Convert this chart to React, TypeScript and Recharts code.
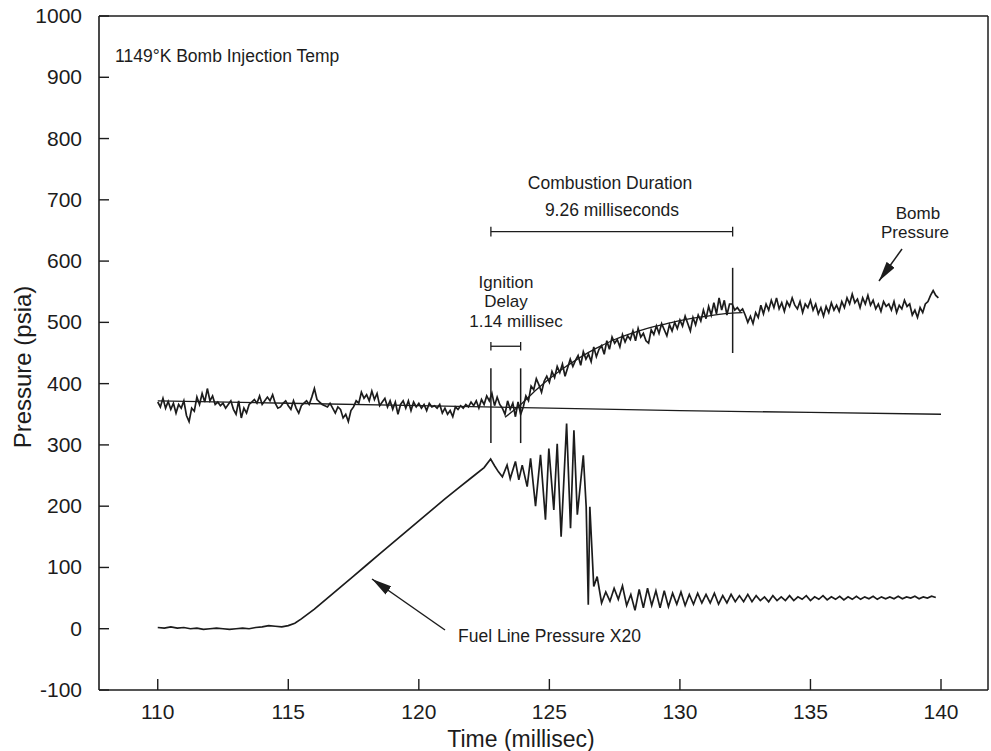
import { LineChart, Line, XAxis, YAxis, ReferenceLine } from "recharts"

const INK = "#1c1c1c"
const FONT = "'Liberation Sans', Arial, sans-serif"

const xTicks = [110, 115, 120, 125, 130, 135, 140]
const yTicks = [-100, 0, 100, 200, 300, 400, 500, 600, 700, 800, 900, 1000]

// bomb pressure trace, sampled every 0.1 ms from 110.0 ms
const BOMB_START = 110
const BOMB_STEP = 0.1
const bombPressure = [
  370, 362, 376, 360, 371, 358, 368, 352, 366, 360,
  372, 348, 338, 360, 355, 378, 366, 384, 370, 392,
  372, 380, 366, 370, 364, 368, 360, 366, 372, 358,
  350, 372, 344, 360, 352, 366, 370, 374, 368, 380,
  366, 372, 378, 372, 382, 368, 360, 362, 368, 372,
  364, 358, 372, 360, 352, 364, 368, 372, 366, 378,
  392, 374, 370, 366, 364, 362, 368, 360, 352, 362,
  358, 344, 350, 338, 356, 362, 372, 368, 386, 376,
  382, 372, 388, 374, 384, 364, 370, 376, 362, 372,
  358, 370, 350, 366, 372, 360, 372, 356, 370, 362,
  368, 360, 366, 356, 368, 362, 364, 360, 366, 352,
  360, 350, 356, 346, 362, 358, 364, 360, 366, 362,
  370, 364, 372, 360, 374, 366, 380, 372, 384, 364,
  378, 366, 360, 350, 372, 358, 368, 346, 370, 350,
  362, 380, 372, 396, 390, 408, 398, 386, 404, 412,
  402, 420, 410, 428, 418, 432, 412, 426, 440, 428,
  438, 446, 430, 452, 440, 448, 436, 460, 444, 456,
  462, 448, 470, 456, 476, 466, 472, 460, 480, 468,
  478, 472, 486, 470, 490, 476, 482, 470, 466, 488,
  480, 494, 482, 498, 488, 478, 496, 486, 500, 490,
  504, 494, 510, 498, 486, 508, 496, 512, 502, 520,
  506, 526, 512, 532, 514, 540, 520, 536, 512, 530,
  530, 520, 524, 518, 522, 512, 500, 510, 498, 516,
  508, 528, 514, 530, 520, 536, 524, 540, 522, 532,
  518, 534, 526, 540, 528, 522, 534, 516, 530, 524,
  536, 520, 530, 514, 524, 510, 526, 516, 532, 520,
  528, 518, 534, 524, 540, 530, 546, 532, 538, 524,
  540, 530, 544, 528, 536, 522, 530, 518, 534, 526,
  530, 520, 534, 516, 528, 522, 536, 526, 530, 512,
  520, 508, 524, 516, 530, 534, 544, 552, 544, 540,
]

// pre-ignition pressure level
const baseTime = [110, 115, 120, 125, 130, 135, 140]
const basePressure = [372, 368, 364, 360, 356, 353, 350]

// smoothed combustion rise
const fitTime = [123.3, 123.9, 124.5, 125, 125.5, 126, 126.5, 127, 127.5, 128, 128.5, 129, 129.5, 130, 130.5, 131, 131.5, 132, 132.4]
const fitPressure = [345, 366, 390, 408, 424, 438, 451, 462, 472, 480, 487, 493, 498, 503, 507, 510, 513, 515, 516]

// fuel line pressure (x20): quiet, ramp, injection oscillation, valve closing
const fuelTime = [
  110, 110.25, 110.5, 110.75, 111, 111.25, 111.5, 111.75, 112, 112.25, 112.5,
  112.75, 113, 113.25, 113.5, 113.75, 114, 114.25, 114.5, 114.75, 115,
  115.25, 115.5, 116, 116.5, 117, 117.5, 118, 118.5, 119, 119.5, 120,
  120.5, 121, 121.5, 122, 122.5, 122.75,
  122.9, 123.05, 123.2, 123.38, 123.5, 123.7, 123.83, 123.96, 124.15, 124.28,
  124.47, 124.66, 124.85, 124.98, 125.17, 125.3, 125.45, 125.66, 125.81, 125.94,
  126.07, 126.3, 126.41, 126.49, 126.55, 126.7, 126.83,
]
const fuelPressure = [
  2, 1, 3, 1, 2, 0, 1, -1, 0, 1, 0,
  -1, 0, 1, 0, 2, 3, 5, 4, 3, 5,
  9, 16, 32, 50, 68, 86, 104, 122, 140, 158, 176,
  194, 212, 229, 246, 263, 277,
  266, 256, 248, 267, 245, 273, 243, 267, 232, 278,
  200, 284, 178, 294, 194, 302, 150, 335, 164, 324,
  186, 283, 199, 39, 199, 69, 85,
]

// ring-down after the needle closes, sampled every 0.16 ms from 127.0 ms
const RING_START = 127
const RING_STEP = 0.16
const ringPressure = [
  42, 60, 45, 66, 48, 70, 38, 56, 30, 64,
  34, 66, 38, 62, 34, 62, 36, 58, 40, 60,
  38, 56, 40, 58, 42, 56, 42, 58, 40, 54,
  42, 56, 44, 54, 44, 56, 44, 54, 46, 52,
  44, 54, 46, 52, 46, 54, 46, 52, 48, 54,
  46, 52, 48, 54, 47, 52, 48, 53, 47, 52,
  48, 53, 48, 52, 49, 53, 48, 52, 49, 52,
  49, 53, 49, 52, 50, 53, 49, 52, 50, 53,
  51,
]

const IGNITION_START = 122.76
const IGNITION_DELAY = 1.14
const COMBUSTION_DURATION = 9.26

const X_MIN = 107.75
const X_MAX = 141.8

const pairs = (t: number[], p: number[]) => t.map((x, i) => ({ t: x, p: p[i] }))
const sampled = (start: number, step: number, p: number[]) =>
  p.map((v, i) => ({ t: +(start + i * step).toFixed(3), p: v }))

const bombData = sampled(BOMB_START, BOMB_STEP, bombPressure)
const baseData = pairs(baseTime, basePressure)
const fitData = pairs(fitTime, fitPressure)
const fuelData = [...pairs(fuelTime, fuelPressure), ...sampled(RING_START, RING_STEP, ringPressure)]

const ignitionEnd = IGNITION_START + IGNITION_DELAY
const combustionEnd = IGNITION_START + COMBUSTION_DURATION

function XTick(props: any) {
  const { x, y, payload } = props
  return (
    <g>
      <line x1={x} y1={y} x2={x} y2={y - 11} stroke={INK} strokeWidth={1.4} />
      <text x={x} y={y + 29} textAnchor="middle" fontSize={21} fontFamily={FONT} fill={INK}>
        {payload.value}
      </text>
    </g>
  )
}

function YTick(props: any) {
  const { x, y, payload } = props
  return (
    <g>
      <line x1={x} y1={y} x2={x + 10} y2={y} stroke={INK} strokeWidth={1.4} />
      <text x={x - 17} y={y + 7} textAnchor="end" fontSize={21} fontFamily={FONT} fill={INK}>
        {payload.value}
      </text>
    </g>
  )
}

const seg = (x1: number, y1: number, x2: number, y2: number) => [
  { x: x1, y: y1 },
  { x: x2, y: y2 },
]

export default function App() {
  const line = { stroke: INK, strokeWidth: 1.7, dot: false, isAnimationActive: false, dataKey: "p" }
  const ref = { stroke: INK, strokeWidth: 1.5, ifOverflow: "visible" as const }
  return (
    <div style={{ position: "absolute", left: 0, top: 0, width: 991, height: 751, background: "#fff" }}>
      <LineChart width={991} height={751} margin={{ top: 16, right: 3, bottom: 0, left: 0 }}>
        <XAxis
          dataKey="t"
          type="number"
          domain={[X_MIN, X_MAX]}
          ticks={xTicks}
          allowDataOverflow
          height={61}
          tickSize={0}
          tickMargin={0}
          tick={<XTick />}
          axisLine={{ stroke: INK, strokeWidth: 1.6 }}
        />
        <YAxis
          type="number"
          domain={[-100, 1000]}
          ticks={yTicks}
          allowDataOverflow
          width={99}
          tickSize={0}
          tickMargin={0}
          tick={<YTick />}
          axisLine={{ stroke: INK, strokeWidth: 1.6 }}
        />
        <ReferenceLine y={1000} {...ref} />
        <ReferenceLine x={X_MAX} {...ref} />

        <Line data={baseData} type="linear" {...line} strokeWidth={1.3} />
        <Line data={fitData} type="monotone" {...line} strokeWidth={1.3} />
        <Line data={bombData} type="linear" {...line} />
        <Line data={fuelData} type="linear" {...line} />

        {/* ignition and end-of-combustion markers */}
        <ReferenceLine segment={seg(IGNITION_START, 303, IGNITION_START, 425)} {...ref} />
        <ReferenceLine segment={seg(ignitionEnd, 303, ignitionEnd, 425)} {...ref} />
        <ReferenceLine segment={seg(combustionEnd, 450, combustionEnd, 589)} {...ref} />

        {/* ignition delay bracket */}
        <ReferenceLine segment={seg(IGNITION_START, 461, ignitionEnd, 461)} {...ref} strokeWidth={1.3} />
        <ReferenceLine segment={seg(IGNITION_START, 454, IGNITION_START, 468)} {...ref} strokeWidth={1.3} />
        <ReferenceLine segment={seg(ignitionEnd, 454, ignitionEnd, 468)} {...ref} strokeWidth={1.3} />

        {/* combustion duration bracket */}
        <ReferenceLine segment={seg(IGNITION_START, 648, combustionEnd, 648)} {...ref} strokeWidth={1.3} />
        <ReferenceLine segment={seg(IGNITION_START, 640, IGNITION_START, 656)} {...ref} strokeWidth={1.3} />
        <ReferenceLine segment={seg(combustionEnd, 640, combustionEnd, 656)} {...ref} strokeWidth={1.3} />
      </LineChart>

      <svg
        width={991}
        height={751}
        style={{ position: "absolute", left: 0, top: 0, pointerEvents: "none" }}
        fontFamily={FONT}
        fill={INK}
      >
        <defs>
          <marker id="head" viewBox="0 0 20 10" refX="20" refY="5" markerWidth="20" markerHeight="10" markerUnits="userSpaceOnUse" orient="auto">
            <path d="M0,0 L20,5 L0,10 Z" fill={INK} />
          </marker>
        </defs>
        <text x={115} y={62} fontSize={17.5}>1149°K Bomb Injection Temp</text>

        <text x={610} y={189} fontSize={17.5} textAnchor="middle">Combustion Duration</text>
        <text x={612} y={216} fontSize={17.5} textAnchor="middle">9.26 milliseconds</text>

        <text x={506} y={288} fontSize={17} textAnchor="middle">Ignition</text>
        <text x={506} y={307} fontSize={17} textAnchor="middle">Delay</text>
        <text x={516} y={327} fontSize={17} textAnchor="middle">1.14 millisec</text>

        <text x={918} y={219} fontSize={17} textAnchor="middle">Bomb</text>
        <text x={915} y={238} fontSize={17} textAnchor="middle">Pressure</text>
        <line x1={902} y1={249} x2={879} y2={281} stroke={INK} strokeWidth={1.5} markerEnd="url(#head)" />

        <text x={458} y={642} fontSize={17.5}>Fuel Line Pressure X20</text>
        <line x1={445} y1={630} x2={372} y2={579} stroke={INK} strokeWidth={1.5} markerEnd="url(#head)" />

        <text x={521} y={747} fontSize={23} textAnchor="middle">Time (millisec)</text>
        <text x={0} y={0} fontSize={24} textAnchor="middle" transform="translate(31 367) rotate(-90)">
          Pressure (psia)
        </text>
      </svg>
    </div>
  )
}
